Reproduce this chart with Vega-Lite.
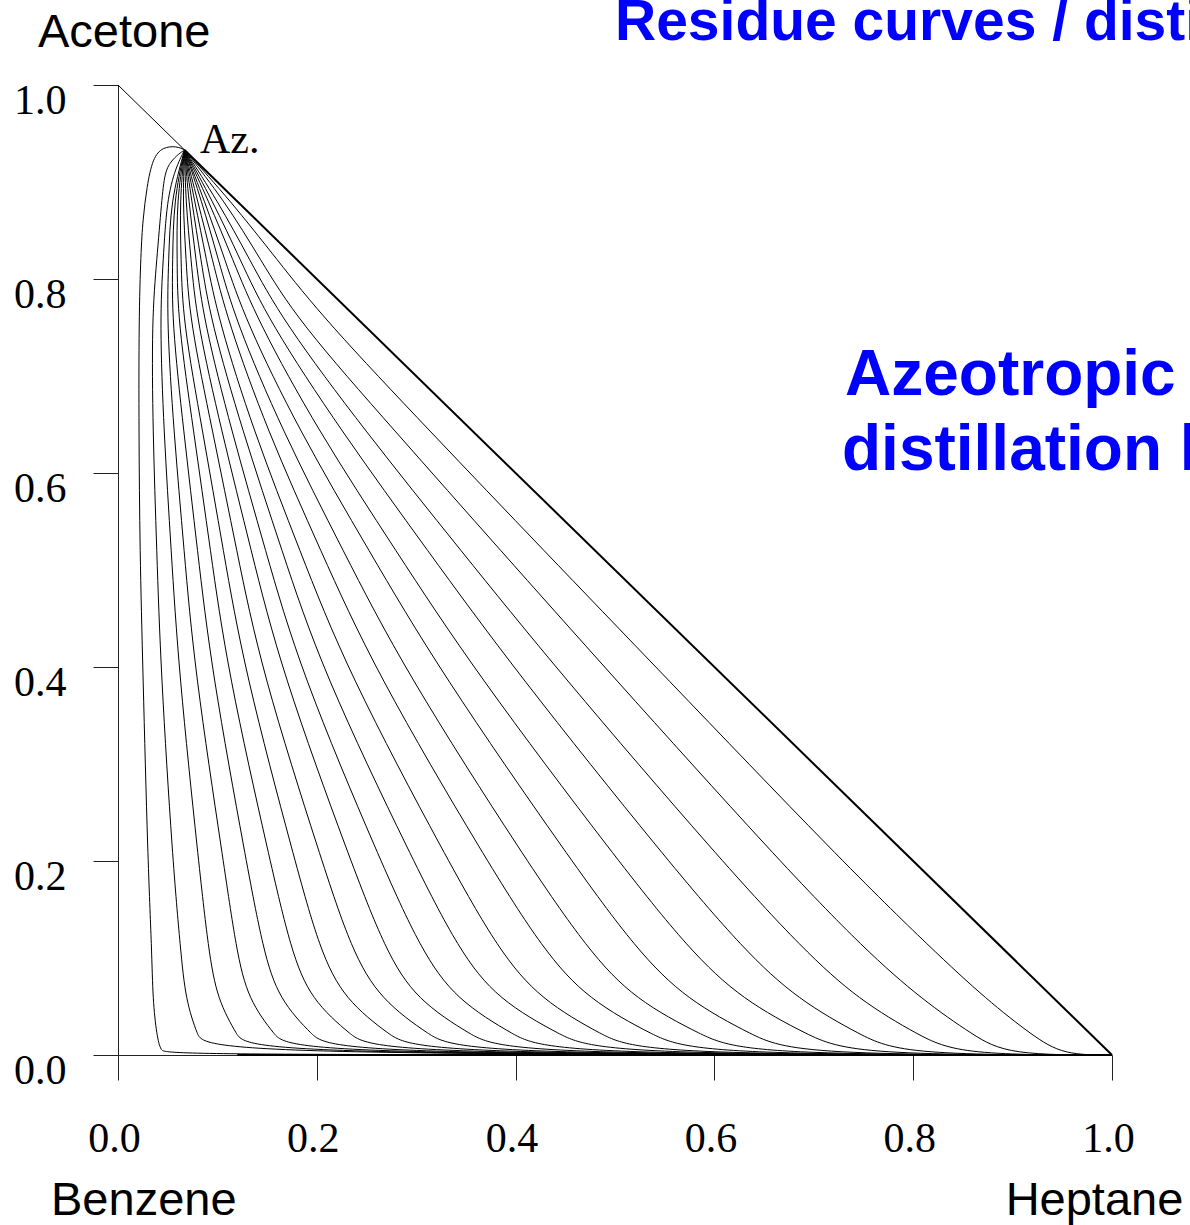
{
 "$schema": "https://vega.github.io/schema/vega-lite/v6.json",
 "width": 994,
 "height": 970,
 "autosize": {"type": "none"},
 "padding": {"left": 118, "top": 85, "right": 78, "bottom": 170},
 "background": "white",
 "config": {
  "view": {"stroke": null},
  "axis": {
   "grid": false,
   "tickSize": 25,
   "tickColor": "#222",
   "domainColor": "#222",
   "labelFont": "Liberation Serif",
   "labelFontSize": 42,
   "labelColor": "black",
   "labelFlush": false,
   "labelOverlap": false,
   "title": null
  },
  "axisX": {"labelPadding": 38, "labelOffset": -4},
  "axisY": {"labelPadding": 27, "labelOffset": 15}
 },
 "datasets": {
  "curves": [
   {"c":1,"x":0.067,"y":0.933},{"c":1,"x":0.059,"y":0.937},{"c":1,"x":0.045,"y":0.936},{"c":1,"x":0.035,"y":0.925},{"c":1,"x":0.029,"y":0.895},{"c":1,"x":0.025,"y":0.861},{"c":1,"x":0.023,"y":0.827},{"c":1,"x":0.021,"y":0.758},{"c":1,"x":0.021,"y":0.644},{"c":1,"x":0.022,"y":0.52},{"c":1,"x":0.025,"y":0.397},{"c":1,"x":0.03,"y":0.2},{"c":1,"x":0.034,"y":0.108},{"c":1,"x":0.035,"y":0.057},{"c":1,"x":0.039,"y":0.02},{"c":1,"x":0.043,"y":0.004},{"c":1,"x":0.05,"y":0},{"c":1,"x":1,"y":0},
   {"c":2,"x":0.067,"y":0.933},{"c":2,"x":0.061,"y":0.929},{"c":2,"x":0.053,"y":0.921},{"c":2,"x":0.047,"y":0.91},{"c":2,"x":0.044,"y":0.881},{"c":2,"x":0.039,"y":0.82},{"c":2,"x":0.034,"y":0.758},{"c":2,"x":0.035,"y":0.644},{"c":2,"x":0.039,"y":0.52},{"c":2,"x":0.043,"y":0.397},{"c":2,"x":0.055,"y":0.2},{"c":2,"x":0.063,"y":0.108},{"c":2,"x":0.068,"y":0.057},{"c":2,"x":0.08,"y":0.02},{"c":2,"x":0.09,"y":0},{"c":2,"x":1,"y":0},
   {"c":3,"x":0.067,"y":0.933},{"c":3,"x":0.058,"y":0.915},{"c":3,"x":0.049,"y":0.881},{"c":3,"x":0.0455,"y":0.82},{"c":3,"x":0.042,"y":0.758},{"c":3,"x":0.046,"y":0.644},{"c":3,"x":0.0535,"y":0.52},{"c":3,"x":0.061,"y":0.397},{"c":3,"x":0.081,"y":0.2},{"c":3,"x":0.091,"y":0.108},{"c":3,"x":0.1,"y":0.057},{"c":3,"x":0.12,"y":0.02},{"c":3,"x":0.133,"y":0},{"c":3,"x":1,"y":0},
   {"c":4,"x":0.067,"y":0.933},{"c":4,"x":0.053,"y":0.881},{"c":4,"x":0.051,"y":0.82},{"c":4,"x":0.049,"y":0.758},{"c":4,"x":0.056,"y":0.644},{"c":4,"x":0.0665,"y":0.52},{"c":4,"x":0.077,"y":0.397},{"c":4,"x":0.106,"y":0.2},{"c":4,"x":0.119,"y":0.108},{"c":4,"x":0.131,"y":0.057},{"c":4,"x":0.158,"y":0.02},{"c":4,"x":0.176,"y":0},{"c":4,"x":1,"y":0},
   {"c":5,"x":0.067,"y":0.933},{"c":5,"x":0.056,"y":0.881},{"c":5,"x":0.055,"y":0.82},{"c":5,"x":0.054,"y":0.758},{"c":5,"x":0.066,"y":0.644},{"c":5,"x":0.08,"y":0.52},{"c":5,"x":0.094,"y":0.397},{"c":5,"x":0.129,"y":0.2},{"c":5,"x":0.146,"y":0.108},{"c":5,"x":0.162,"y":0.057},{"c":5,"x":0.196,"y":0.02},{"c":5,"x":0.218,"y":0},{"c":5,"x":1,"y":0},
   {"c":6,"x":0.067,"y":0.933},{"c":6,"x":0.059,"y":0.881},{"c":6,"x":0.0595,"y":0.82},{"c":6,"x":0.06,"y":0.758},{"c":6,"x":0.076,"y":0.644},{"c":6,"x":0.093,"y":0.52},{"c":6,"x":0.11,"y":0.397},{"c":6,"x":0.153,"y":0.2},{"c":6,"x":0.174,"y":0.108},{"c":6,"x":0.194,"y":0.057},{"c":6,"x":0.235,"y":0.02},{"c":6,"x":0.262,"y":0},{"c":6,"x":1,"y":0},
   {"c":7,"x":0.067,"y":0.933},{"c":7,"x":0.062,"y":0.881},{"c":7,"x":0.0635,"y":0.82},{"c":7,"x":0.065,"y":0.758},{"c":7,"x":0.085,"y":0.644},{"c":7,"x":0.106,"y":0.52},{"c":7,"x":0.127,"y":0.397},{"c":7,"x":0.178,"y":0.2},{"c":7,"x":0.203,"y":0.108},{"c":7,"x":0.228,"y":0.057},{"c":7,"x":0.274,"y":0.02},{"c":7,"x":0.305,"y":0},{"c":7,"x":1,"y":0},
   {"c":8,"x":0.067,"y":0.933},{"c":8,"x":0.065,"y":0.881},{"c":8,"x":0.0685,"y":0.82},{"c":8,"x":0.072,"y":0.758},{"c":8,"x":0.095,"y":0.644},{"c":8,"x":0.1195,"y":0.52},{"c":8,"x":0.144,"y":0.397},{"c":8,"x":0.205,"y":0.2},{"c":8,"x":0.235,"y":0.108},{"c":8,"x":0.264,"y":0.057},{"c":8,"x":0.314,"y":0.02},{"c":8,"x":0.348,"y":0},{"c":8,"x":1,"y":0},
   {"c":9,"x":0.067,"y":0.933},{"c":9,"x":0.068,"y":0.881},{"c":9,"x":0.0735,"y":0.82},{"c":9,"x":0.079,"y":0.758},{"c":9,"x":0.104,"y":0.644},{"c":9,"x":0.134,"y":0.52},{"c":9,"x":0.164,"y":0.397},{"c":9,"x":0.234,"y":0.2},{"c":9,"x":0.269,"y":0.108},{"c":9,"x":0.3,"y":0.057},{"c":9,"x":0.356,"y":0.02},{"c":9,"x":0.394,"y":0},{"c":9,"x":1,"y":0},
   {"c":10,"x":0.067,"y":0.933},{"c":10,"x":0.071,"y":0.881},{"c":10,"x":0.0785,"y":0.82},{"c":10,"x":0.086,"y":0.758},{"c":10,"x":0.114,"y":0.644},{"c":10,"x":0.1485,"y":0.52},{"c":10,"x":0.183,"y":0.397},{"c":10,"x":0.264,"y":0.2},{"c":10,"x":0.305,"y":0.108},{"c":10,"x":0.34,"y":0.057},{"c":10,"x":0.399,"y":0.02},{"c":10,"x":0.438,"y":0},{"c":10,"x":1,"y":0},
   {"c":11,"x":0.067,"y":0.933},{"c":11,"x":0.074,"y":0.881},{"c":11,"x":0.0835,"y":0.82},{"c":11,"x":0.093,"y":0.758},{"c":11,"x":0.125,"y":0.644},{"c":11,"x":0.165,"y":0.52},{"c":11,"x":0.205,"y":0.397},{"c":11,"x":0.297,"y":0.2},{"c":11,"x":0.343,"y":0.108},{"c":11,"x":0.382,"y":0.057},{"c":11,"x":0.446,"y":0.02},{"c":11,"x":0.488,"y":0},{"c":11,"x":1,"y":0},
   {"c":12,"x":0.067,"y":0.933},{"c":12,"x":0.077,"y":0.881},{"c":12,"x":0.089,"y":0.82},{"c":12,"x":0.101,"y":0.758},{"c":12,"x":0.136,"y":0.644},{"c":12,"x":0.183,"y":0.52},{"c":12,"x":0.23,"y":0.397},{"c":12,"x":0.332,"y":0.2},{"c":12,"x":0.383,"y":0.108},{"c":12,"x":0.425,"y":0.057},{"c":12,"x":0.488,"y":0.02},{"c":12,"x":0.53,"y":0},{"c":12,"x":1,"y":0},
   {"c":13,"x":0.067,"y":0.933},{"c":13,"x":0.08,"y":0.881},{"c":13,"x":0.095,"y":0.82},{"c":13,"x":0.11,"y":0.758},{"c":13,"x":0.15,"y":0.644},{"c":13,"x":0.204,"y":0.52},{"c":13,"x":0.258,"y":0.397},{"c":13,"x":0.371,"y":0.2},{"c":13,"x":0.428,"y":0.108},{"c":13,"x":0.473,"y":0.057},{"c":13,"x":0.539,"y":0.02},{"c":13,"x":0.583,"y":0},{"c":13,"x":1,"y":0},
   {"c":14,"x":0.067,"y":0.933},{"c":14,"x":0.084,"y":0.881},{"c":14,"x":0.101,"y":0.82},{"c":14,"x":0.118,"y":0.758},{"c":14,"x":0.165,"y":0.644},{"c":14,"x":0.2265,"y":0.52},{"c":14,"x":0.288,"y":0.397},{"c":14,"x":0.411,"y":0.2},{"c":14,"x":0.473,"y":0.108},{"c":14,"x":0.52,"y":0.057},{"c":14,"x":0.588,"y":0.02},{"c":14,"x":0.633,"y":0},{"c":14,"x":1,"y":0},
   {"c":15,"x":0.067,"y":0.933},{"c":15,"x":0.087,"y":0.881},{"c":15,"x":0.1075,"y":0.82},{"c":15,"x":0.128,"y":0.758},{"c":15,"x":0.182,"y":0.644},{"c":15,"x":0.2525,"y":0.52},{"c":15,"x":0.323,"y":0.397},{"c":15,"x":0.456,"y":0.2},{"c":15,"x":0.522,"y":0.108},{"c":15,"x":0.572,"y":0.057},{"c":15,"x":0.639,"y":0.02},{"c":15,"x":0.683,"y":0},{"c":15,"x":1,"y":0},
   {"c":16,"x":0.067,"y":0.933},{"c":16,"x":0.091,"y":0.881},{"c":16,"x":0.1155,"y":0.82},{"c":16,"x":0.14,"y":0.758},{"c":16,"x":0.201,"y":0.644},{"c":16,"x":0.2795,"y":0.52},{"c":16,"x":0.358,"y":0.397},{"c":16,"x":0.503,"y":0.2},{"c":16,"x":0.575,"y":0.108},{"c":16,"x":0.628,"y":0.057},{"c":16,"x":0.695,"y":0.02},{"c":16,"x":0.74,"y":0},{"c":16,"x":1,"y":0},
   {"c":17,"x":0.067,"y":0.933},{"c":17,"x":0.095,"y":0.881},{"c":17,"x":0.123,"y":0.82},{"c":17,"x":0.151,"y":0.758},{"c":17,"x":0.224,"y":0.644},{"c":17,"x":0.3115,"y":0.52},{"c":17,"x":0.399,"y":0.397},{"c":17,"x":0.553,"y":0.2},{"c":17,"x":0.63,"y":0.108},{"c":17,"x":0.684,"y":0.057},{"c":17,"x":0.748,"y":0.02},{"c":17,"x":0.79,"y":0},{"c":17,"x":1,"y":0},
   {"c":18,"x":0.067,"y":0.933},{"c":18,"x":0.1,"y":0.881},{"c":18,"x":0.1325,"y":0.82},{"c":18,"x":0.165,"y":0.758},{"c":18,"x":0.248,"y":0.644},{"c":18,"x":0.345,"y":0.52},{"c":18,"x":0.442,"y":0.397},{"c":18,"x":0.607,"y":0.2},{"c":18,"x":0.69,"y":0.108},{"c":18,"x":0.745,"y":0.057},{"c":18,"x":0.806,"y":0.02},{"c":18,"x":0.847,"y":0},{"c":18,"x":1,"y":0},
   {"c":19,"x":0.067,"y":0.933},{"c":19,"x":0.107,"y":0.881},{"c":19,"x":0.1435,"y":0.82},{"c":19,"x":0.18,"y":0.758},{"c":19,"x":0.278,"y":0.644},{"c":19,"x":0.385,"y":0.52},{"c":19,"x":0.492,"y":0.397},{"c":19,"x":0.665,"y":0.2},{"c":19,"x":0.752,"y":0.108},{"c":19,"x":0.809,"y":0.057},{"c":19,"x":0.861,"y":0.02},{"c":19,"x":0.895,"y":0},{"c":19,"x":1,"y":0},
   {"c":20,"x":0.067,"y":0.933},{"c":20,"x":0.113,"y":0.881},{"c":20,"x":0.16,"y":0.82},{"c":20,"x":0.208,"y":0.758},{"c":20,"x":0.313,"y":0.644},{"c":20,"x":0.4285,"y":0.52},{"c":20,"x":0.544,"y":0.397},{"c":20,"x":0.728,"y":0.2},{"c":20,"x":0.82,"y":0.108},{"c":20,"x":0.874,"y":0.057},{"c":20,"x":0.92,"y":0.02},{"c":20,"x":0.951,"y":0},{"c":20,"x":1,"y":0}
  ],
  "edge": [{"x":0,"y":1},{"x":1,"y":0}],
  "boundary": [{"x":0.067,"y":0.933},{"x":1,"y":0}],
  "bottom": [{"x":0.12,"y":0},{"x":1,"y":0}],
  "az": [{"label":"Az.","x":0.0825,"y":0.93}],
  "names": [
   {"label":"Acetone","x":-0.0805,"y":1.039},
   {"label":"Benzene","x":-0.0674,"y":-0.165},
   {"label":"Heptane","x":0.893,"y":-0.165}
  ],
  "title": [{"label":"Residue curves / distillation lines","x":0.5,"y":1.046}],
  "note": [
   {"label":"Azeotropic","x":0.7314,"y":0.68},
   {"label":"distillation lines","x":0.7284,"y":0.603}
  ]
 },
 "layer": [
  {
   "data": {"name": "curves"},
   "mark": {"type": "line", "color": "black", "strokeWidth": 1, "clip": false, "interpolate": "basis"},
   "encoding": {
    "x": {"field": "x", "type": "quantitative", "scale": {"domain": [0, 1], "nice": false}, "title": null, "axis": {"values": [0, 0.2, 0.4, 0.6, 0.8, 1], "format": ".1f"}},
    "y": {"field": "y", "type": "quantitative", "scale": {"domain": [0, 1], "nice": false}, "title": null, "axis": {"values": [0, 0.2, 0.4, 0.6, 0.8, 1], "format": ".1f"}},
    "detail": {"field": "c", "type": "nominal"},
    "order": {"value": null}
   }
  },
  {
   "data": {"name": "edge"},
   "mark": {"type": "line", "color": "black", "strokeWidth": 1},
   "encoding": {
    "x": {"field": "x", "type": "quantitative", "scale": {"domain": [0, 1], "nice": false}, "title": null},
    "y": {"field": "y", "type": "quantitative", "scale": {"domain": [0, 1], "nice": false}, "title": null},
    "order": {"value": null}
   }
  },
  {
   "data": {"name": "boundary"},
   "mark": {"type": "line", "color": "black", "strokeWidth": 2},
   "encoding": {
    "x": {"field": "x", "type": "quantitative", "scale": {"domain": [0, 1], "nice": false}, "title": null},
    "y": {"field": "y", "type": "quantitative", "scale": {"domain": [0, 1], "nice": false}, "title": null},
    "order": {"value": null}
   }
  },
  {
   "data": {"name": "bottom"},
   "mark": {"type": "line", "color": "black", "strokeWidth": 2},
   "encoding": {
    "x": {"field": "x", "type": "quantitative", "scale": {"domain": [0, 1], "nice": false}, "title": null},
    "y": {"field": "y", "type": "quantitative", "scale": {"domain": [0, 1], "nice": false}, "title": null},
    "order": {"value": null}
   }
  },
  {
   "data": {"name": "az"},
   "mark": {"type": "text", "font": "Liberation Serif", "fontSize": 42, "color": "black", "align": "left", "baseline": "alphabetic"},
   "encoding": {
    "x": {"field": "x", "type": "quantitative", "scale": {"domain": [0, 1], "nice": false}, "title": null},
    "y": {"field": "y", "type": "quantitative", "scale": {"domain": [0, 1], "nice": false}, "title": null},
    "text": {"field": "label"}
   }
  },
  {
   "data": {"name": "names"},
   "mark": {"type": "text", "font": "Liberation Sans", "fontSize": 47, "color": "black", "align": "left", "baseline": "alphabetic"},
   "encoding": {
    "x": {"field": "x", "type": "quantitative", "scale": {"domain": [0, 1], "nice": false}, "title": null},
    "y": {"field": "y", "type": "quantitative", "scale": {"domain": [0, 1], "nice": false}, "title": null},
    "text": {"field": "label"}
   }
  },
  {
   "data": {"name": "title"},
   "mark": {"type": "text", "font": "Liberation Sans", "fontSize": 57, "fontWeight": "bold", "color": "#0000FF", "align": "left", "baseline": "alphabetic"},
   "encoding": {
    "x": {"field": "x", "type": "quantitative", "scale": {"domain": [0, 1], "nice": false}, "title": null},
    "y": {"field": "y", "type": "quantitative", "scale": {"domain": [0, 1], "nice": false}, "title": null},
    "text": {"field": "label"}
   }
  },
  {
   "data": {"name": "note"},
   "mark": {"type": "text", "font": "Liberation Sans", "fontSize": 64, "fontWeight": "bold", "color": "#0000FF", "align": "left", "baseline": "alphabetic"},
   "encoding": {
    "x": {"field": "x", "type": "quantitative", "scale": {"domain": [0, 1], "nice": false}, "title": null},
    "y": {"field": "y", "type": "quantitative", "scale": {"domain": [0, 1], "nice": false}, "title": null},
    "text": {"field": "label"}
   }
  }
 ]
}
